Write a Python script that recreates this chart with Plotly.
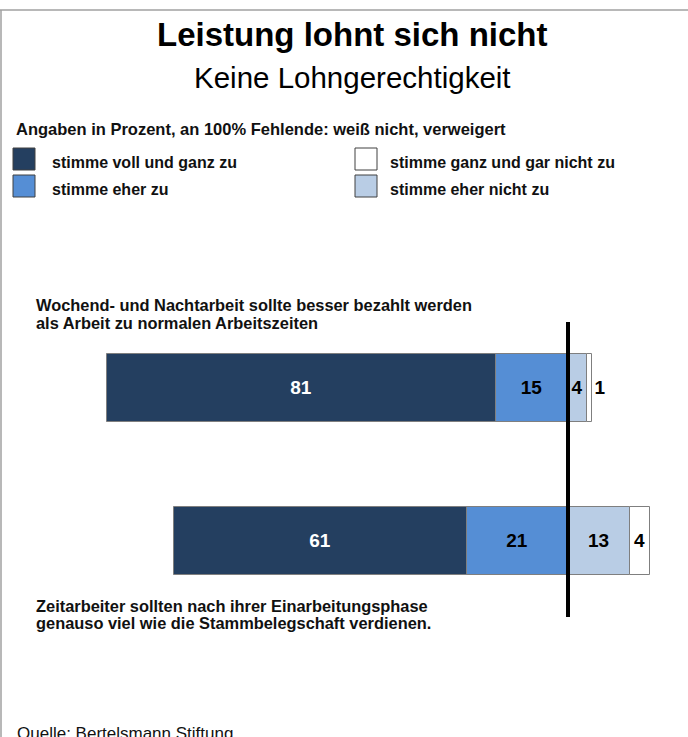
import plotly.graph_objects as go

# ---------------- data ----------------
questions = ["Wochend- und Nachtarbeit", "Zeitarbeiter"]
question_lines = [
    ["Wochend- und Nachtarbeit sollte besser bezahlt werden",
     "als Arbeit zu normalen Arbeitszeiten"],
    ["Zeitarbeiter sollten nach ihrer Einarbeitungsphase",
     "genauso viel wie die Stammbelegschaft verdienen."],
]
voll_und_ganz = [81, 61]
eher_zu = [15, 21]
eher_nicht = [4, 13]
gar_nicht = [1, 4]

series_names = ["stimme voll und ganz zu", "stimme eher zu",
                "stimme eher nicht zu", "stimme ganz und gar nicht zu"]
colors = ["#243F60", "#558ED5", "#B9CDE5", "#FFFFFF"]
text_colors = ["white", "black", "black", "black"]

W, H = 688, 737
FONT = "Liberation Sans, Arial, sans-serif"

def px(x):
    return x / W

def py(y):
    return 1 - y / H

fig = go.Figure()

# relative mode: negative stacks from zero outward (first trace closest to zero)
stack = [
    (1, [-v for v in eher_zu]),
    (0, [-v for v in voll_und_ganz]),
    (2, eher_nicht),
    (3, gar_nicht),
]
for idx, vals in stack:
    fig.add_trace(go.Bar(
        y=questions, x=vals, orientation="h", name=series_names[idx],
        marker=dict(color=colors[idx], line=dict(color="#7f7f7f", width=1)),
        text=["<b>" + str(abs(v)) + "</b>" for v in vals],
        textposition="auto", insidetextanchor="middle",
        textfont=dict(family=FONT, size=19, color=text_colors[idx]),
        outsidetextfont=dict(family=FONT, size=19, color="black"),
        cliponaxis=False, width=0.44, showlegend=False,
        hoverinfo="skip",
    ))

scale = 4.8  # px per percent
zero_px = 568
fig.update_xaxes(range=[-zero_px / scale, (W - zero_px) / scale], visible=False,
                 domain=[0, 1], fixedrange=True)
cy0, dy = 388, 153
fig.update_yaxes(range=[(H - cy0) / dy, -cy0 / dy], visible=False,
                 domain=[0, 1], fixedrange=True)

# vertical zero line
fig.add_shape(type="line", xref="x", yref="y", x0=0, x1=0,
              y0=(322 - cy0) / dy, y1=(617 - cy0) / dy,
              line=dict(color="black", width=4))

# border lines
fig.add_shape(type="line", xref="paper", yref="paper", x0=0, x1=1,
              y0=py(10), y1=py(10), line=dict(color="#a0a0a0", width=1.5))
fig.add_shape(type="line", xref="paper", yref="paper", x0=px(1), x1=px(1),
              y0=py(10), y1=0, line=dict(color="#a0a0a0", width=1.5))

ann = []
ann.append(dict(text="<b>Leistung lohnt sich nicht</b>", x=px(352), y=py(34),
                font=dict(size=33, color="black", family=FONT)))
ann.append(dict(text="Keine Lohngerechtigkeit", x=px(352), y=py(78),
                font=dict(size=29.5, color="black", family=FONT)))
ann.append(dict(text="<b>Angaben in Prozent, an 100% Fehlende: weiß nicht, verweigert</b>",
                x=px(14), y=py(129), xanchor="left",
                font=dict(size=16.5, color="#111111", family=FONT)))

# manual legend
legend_pos = {0: (13, 159), 1: (13, 186), 3: (355, 159), 2: (355, 186)}
for idx, (lx, ly) in legend_pos.items():
    fig.add_shape(type="rect", xref="paper", yref="paper",
                  x0=px(lx), x1=px(lx + 22), y0=py(ly - 11), y1=py(ly + 11),
                  fillcolor=colors[idx], line=dict(color="#404040", width=1))
    ann.append(dict(text="<b>" + series_names[idx] + "</b>",
                    x=px(lx + 37 if lx < 100 else lx + 33),
                    y=py(ly + 3), xanchor="left",
                    font=dict(size=16, color="#111111", family=FONT)))

# question labels (one annotation per line for tight spacing)
label_y = [(305, 323), (606, 623)]
for lines, ys in zip(question_lines, label_y):
    for line, yy in zip(lines, ys):
        ann.append(dict(text="<b>" + line + "</b>", x=px(34), y=py(yy),
                        xanchor="left", align="left",
                        font=dict(size=16.4, color="#111111", family=FONT)))

ann.append(dict(text="Quelle: Bertelsmann Stiftung", x=px(15), y=py(733),
                xanchor="left", yanchor="middle",
                font=dict(size=17, color="#111111", family=FONT)))

for a in ann:
    a.setdefault("xref", "paper")
    a.setdefault("yref", "paper")
    a.setdefault("showarrow", False)
    a.setdefault("yanchor", "middle")
    a.setdefault("xanchor", "center")
fig.update_layout(annotations=ann)

fig.update_layout(
    width=W, height=H, barmode="relative", bargap=0,
    margin=dict(l=0, r=0, t=0, b=0),
    paper_bgcolor="white", plot_bgcolor="white",
    font=dict(family=FONT), showlegend=False,
)

fig.write_html("out.html", config={"displayModeBar": False},
               post_script="document.body.style.margin='0px';document.body.style.overflow='hidden';")
